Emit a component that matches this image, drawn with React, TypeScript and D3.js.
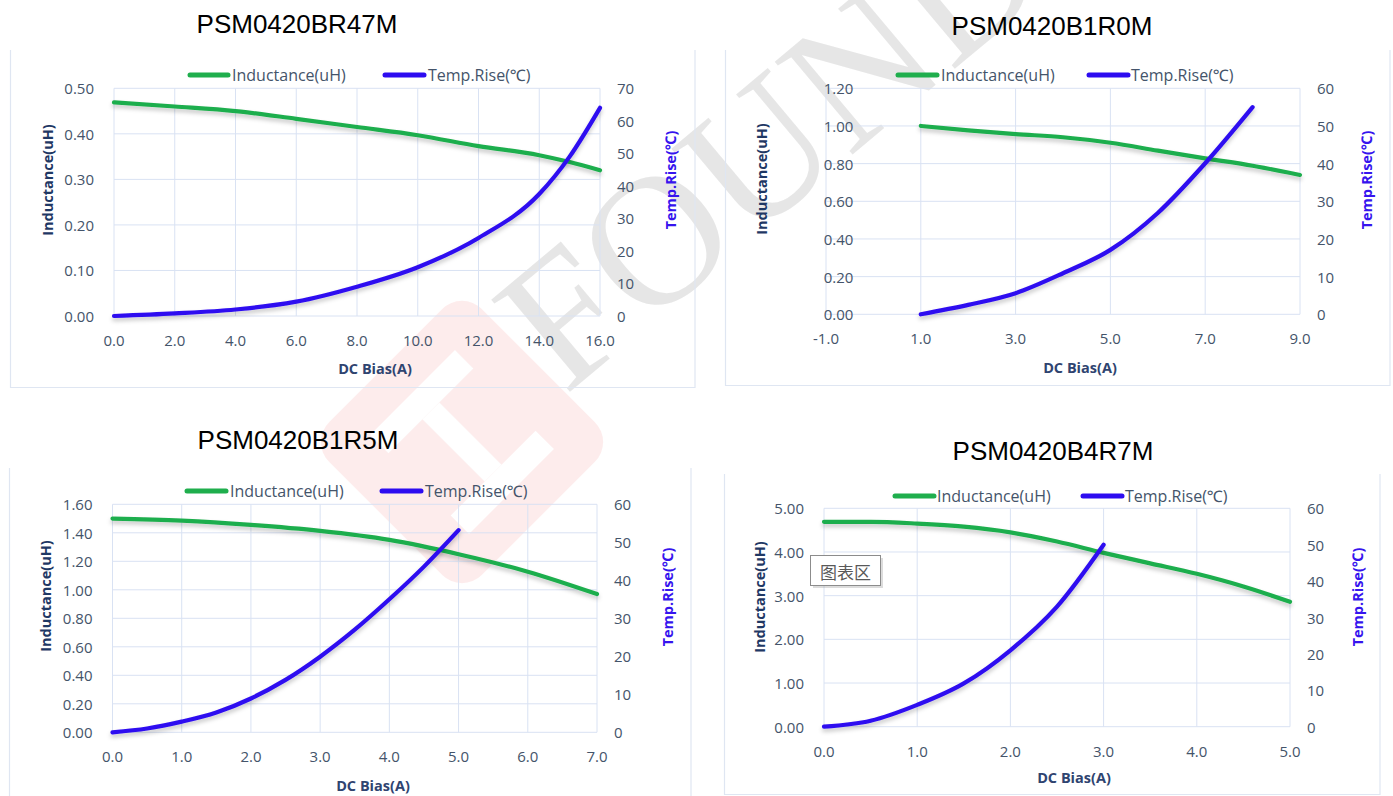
import React from 'react';
import * as d3 from 'd3';

// ---------- DATA ----------
// PSM0420BR47M
const r47IndCurrent = [0, 2, 4, 6, 8, 10, 12, 14, 15, 16];
const r47Inductance = [0.469, 0.46, 0.45, 0.433, 0.415, 0.397, 0.373, 0.353, 0.338, 0.32];
const r47TempCurrent = [0, 2, 4, 6, 8, 10, 12, 14, 15, 16];
const r47TempRise = [0, 0.8, 2, 4.4, 9, 15, 24, 37.5, 49, 64];
const r47XTicks = [0, 2, 4, 6, 8, 10, 12, 14, 16];
const r47LeftTicks = [0, 0.1, 0.2, 0.3, 0.4, 0.5];
const r47RightTicks = [0, 10, 20, 30, 40, 50, 60, 70];

// PSM0420B1R0M
const b1r0IndCurrent = [1, 2, 3, 4, 5, 6, 7, 8, 9];
const b1r0Inductance = [1.0, 0.977, 0.957, 0.94, 0.911, 0.869, 0.828, 0.789, 0.74];
const b1r0TempCurrent = [1, 2, 3, 4, 5, 6, 7, 8];
const b1r0TempRise = [0, 2.5, 5.6, 10.9, 17.1, 26.9, 40.1, 55];
const b1r0XTicks = [-1, 1, 3, 5, 7, 9];
const b1r0LeftTicks = [0, 0.2, 0.4, 0.6, 0.8, 1.0, 1.2];
const b1r0RightTicks = [0, 10, 20, 30, 40, 50, 60];

// PSM0420B1R5M
const b1r5IndCurrent = [0, 1, 2, 3, 4, 5, 6, 7];
const b1r5Inductance = [1.5, 1.485, 1.455, 1.413, 1.35, 1.25, 1.127, 0.97];
const b1r5TempCurrent = [0, 0.5, 1, 1.5, 2, 2.5, 3, 3.5, 4, 4.5, 5];
const b1r5TempRise = [0, 1, 2.8, 5.2, 8.9, 13.8, 19.9, 27, 35, 43.6, 53.2];
const b1r5XTicks = [0, 1, 2, 3, 4, 5, 6, 7];
const b1r5LeftTicks = [0, 0.2, 0.4, 0.6, 0.8, 1.0, 1.2, 1.4, 1.6];
const b1r5RightTicks = [0, 10, 20, 30, 40, 50, 60];

// PSM0420B4R7M
const b4r7IndCurrent = [0, 0.5, 1, 1.5, 2, 2.5, 3, 3.5, 4, 4.5, 5];
const b4r7Inductance = [4.69, 4.69, 4.65, 4.58, 4.45, 4.24, 3.98, 3.74, 3.5, 3.21, 2.86];
const b4r7TempCurrent = [0, 0.5, 1, 1.5, 2, 2.5, 3];
const b4r7TempRise = [0, 1.65, 6.0, 11.9, 21, 33, 50];
const b4r7XTicks = [0, 1, 2, 3, 4, 5];
const b4r7LeftTicks = [0, 1, 2, 3, 4, 5];
const b4r7RightTicks = [0, 10, 20, 30, 40, 50, 60];

const seriesNames = ['Inductance(uH)', 'Temp.Rise(\u2103)'];

// ---------- STYLE ----------
const GREEN = '#1fae4d';
const BLUE = '#2d0cf0';
const TICK = '#44546a';
const NAVY = '#1f3864';
const GRID = '#d9e2f3';
const BORDER = '#dfe6f2';
const TICK_FONT = "'Open Sans', 'Noto Sans', sans-serif";

type Spec = {
  title: string;
  titleX: number;
  titleY: number;
  box: [number, number, number, number];
  plot: { x0: number; x1: number; yTop: number; yBottom: number };
  xDomain: [number, number];
  yLeftMax: number;
  yRightMax: number;
  yAxisAt: number;
  indX: number[];
  indY: number[];
  tempX: number[];
  tempY: number[];
  xTicks: number[];
  leftTicks: number[];
  rightTicks: number[];
  legendY: number;
  legGreen: [number, number, number];
  legBlue: [number, number, number];
  xTitle: [number, number];
  leftTitle: [number, number];
  rightTitle: [number, number];
};

const specs: Spec[] = [
  {
    title: 'PSM0420BR47M', titleX: 297, titleY: 33,
    box: [10.5, 50, 695, 387.5],
    plot: { x0: 114, x1: 600, yTop: 88.3, yBottom: 316 },
    xDomain: [0, 16], yLeftMax: 0.5, yRightMax: 70, yAxisAt: 0,
    indX: r47IndCurrent, indY: r47Inductance, tempX: r47TempCurrent, tempY: r47TempRise,
    xTicks: r47XTicks, leftTicks: r47LeftTicks, rightTicks: r47RightTicks,
    legendY: 75, legGreen: [190, 228, 232], legBlue: [385, 424, 428],
    xTitle: [375, 368], leftTitle: [47, 180], rightTitle: [670, 180],
  },
  {
    title: 'PSM0420B1R0M', titleX: 1052, titleY: 35,
    box: [725.5, 50, 1390, 385.5],
    plot: { x0: 826, x1: 1300, yTop: 88.3, yBottom: 314.3 },
    xDomain: [-1, 9], yLeftMax: 1.2, yRightMax: 60, yAxisAt: 0,
    indX: b1r0IndCurrent, indY: b1r0Inductance, tempX: b1r0TempCurrent, tempY: b1r0TempRise,
    xTicks: b1r0XTicks, leftTicks: b1r0LeftTicks, rightTicks: b1r0RightTicks,
    legendY: 75, legGreen: [898, 937, 941], legBlue: [1089, 1128, 1131],
    xTitle: [1080, 367], leftTitle: [761, 179], rightTitle: [1366, 180],
  },
  {
    title: 'PSM0420B1R5M', titleX: 298, titleY: 449,
    box: [9.5, 468, 691, 800],
    plot: { x0: 112.5, x1: 597, yTop: 504.3, yBottom: 732.3 },
    xDomain: [0, 7], yLeftMax: 1.6, yRightMax: 60, yAxisAt: 0,
    indX: b1r5IndCurrent, indY: b1r5Inductance, tempX: b1r5TempCurrent, tempY: b1r5TempRise,
    xTicks: b1r5XTicks, leftTicks: b1r5LeftTicks, rightTicks: b1r5RightTicks,
    legendY: 491, legGreen: [187, 226, 230], legBlue: [382, 421, 425],
    xTitle: [373, 785], leftTitle: [45, 596], rightTitle: [667, 597],
  },
  {
    title: 'PSM0420B4R7M', titleX: 1053, titleY: 460,
    box: [724.5, 474, 1380, 794.5],
    plot: { x0: 824, x1: 1290, yTop: 508.3, yBottom: 726.7 },
    xDomain: [0, 5], yLeftMax: 5, yRightMax: 60, yAxisAt: 0,
    indX: b4r7IndCurrent, indY: b4r7Inductance, tempX: b4r7TempCurrent, tempY: b4r7TempRise,
    xTicks: b4r7XTicks, leftTicks: b4r7LeftTicks, rightTicks: b4r7RightTicks,
    legendY: 496, legGreen: [895, 934, 937], legBlue: [1083, 1122, 1125],
    xTitle: [1074, 777], leftTitle: [759, 597], rightTitle: [1357, 597],
  },
];

const fmtX = (t: number) => d3.format('.1f')(t).replace('\u2212', '-');

function Chart({ s }: { s: Spec }) {
  const x = d3.scaleLinear().domain(s.xDomain).range([s.plot.x0, s.plot.x1]);
  const yL = d3.scaleLinear().domain([0, s.yLeftMax]).range([s.plot.yBottom, s.plot.yTop]);
  const yR = d3.scaleLinear().domain([0, s.yRightMax]).range([s.plot.yBottom, s.plot.yTop]);
  const indLine = d3
    .line<number>()
    .x((_, i) => x(s.indX[i]))
    .y((d) => yL(d))
    .curve(d3.curveMonotoneX);
  const tempLine = d3
    .line<number>()
    .x((_, i) => x(s.tempX[i]))
    .y((d) => yR(d))
    .curve(d3.curveMonotoneX);
  const [bl, bt, br, bb] = s.box;
  const axisX = x(s.yAxisAt);
  return (
    <g>
      <path d={`M${bl},${bt}V${bb}H${br}V${bt}`} fill="none" stroke={BORDER} strokeWidth={1.2} />
      <text x={s.titleX} y={s.titleY} textAnchor="middle" fontFamily="'Liberation Sans', Arial, sans-serif" fontSize={26} fill="#000">
        {s.title}
      </text>
      {s.leftTicks.map((t) => (
        <line key={'h' + t} x1={s.plot.x0} x2={s.plot.x1} y1={yL(t)} y2={yL(t)} stroke={GRID} strokeWidth={1} />
      ))}
      {s.xTicks.map((t) => (
        <line key={'v' + t} x1={x(t)} x2={x(t)} y1={s.plot.yTop} y2={s.plot.yBottom} stroke={GRID} strokeWidth={1} />
      ))}
      {s.leftTicks.map((t) => (
        <text key={'l' + t} x={axisX - 20} y={yL(t)} textAnchor="end" dominantBaseline="central" fontFamily={TICK_FONT} fontSize={15} fill={TICK}>
          {d3.format('.2f')(t)}
        </text>
      ))}
      {s.rightTicks.map((t) => (
        <text key={'r' + t} x={s.plot.x1 + 17} y={yR(t)} textAnchor="start" dominantBaseline="central" fontFamily={TICK_FONT} fontSize={15} fill={TICK}>
          {d3.format('d')(t)}
        </text>
      ))}
      {s.xTicks.map((t) => (
        <text key={'x' + t} x={x(t)} y={s.plot.yBottom + 24} textAnchor="middle" dominantBaseline="central" fontFamily={TICK_FONT} fontSize={15} fill={TICK}>
          {fmtX(t)}
        </text>
      ))}
      <text x={s.xTitle[0]} y={s.xTitle[1]} textAnchor="middle" dominantBaseline="central" fontFamily={TICK_FONT} fontWeight="bold" fontSize={14.5} fill="#2f4470">
        DC Bias(A)
      </text>
      <text transform={`translate(${s.leftTitle[0]},${s.leftTitle[1]}) rotate(-90)`} textAnchor="middle" dominantBaseline="central" fontFamily={TICK_FONT} fontWeight="bold" fontSize={14.5} fill={NAVY}>
        Inductance(uH)
      </text>
      <text transform={`translate(${s.rightTitle[0]},${s.rightTitle[1]}) rotate(-90)`} textAnchor="middle" dominantBaseline="central" fontFamily={TICK_FONT} fontWeight="bold" fontSize={14.5} fill="#3614ee">
        Temp.Rise(℃)
      </text>
      <path d={indLine(s.indY) || ''} fill="none" stroke={GREEN} strokeWidth={4.2} strokeLinecap="round" filter="url(#shadow)" />
      <path d={tempLine(s.tempY) || ''} fill="none" stroke={BLUE} strokeWidth={4.2} strokeLinecap="round" filter="url(#shadow)" />
      <line x1={s.legGreen[0]} x2={s.legGreen[1]} y1={s.legendY} y2={s.legendY} stroke={GREEN} strokeWidth={5} strokeLinecap="round" />
      <text x={s.legGreen[2]} y={s.legendY} dominantBaseline="central" fontFamily={TICK_FONT} fontSize={16} fill={TICK}>
        {seriesNames[0]}
      </text>
      <line x1={s.legBlue[0]} x2={s.legBlue[1]} y1={s.legendY} y2={s.legendY} stroke={BLUE} strokeWidth={5} strokeLinecap="round" />
      <text x={s.legBlue[2]} y={s.legendY} dominantBaseline="central" fontFamily={TICK_FONT} fontSize={16} fill={TICK}>
        {seriesNames[1]}
      </text>
    </g>
  );
}

export default function App() {
  return (
    <svg width={1393} height={796} style={{ position: 'absolute', left: 0, top: 0, background: '#fff' }}>
      <defs>
        <filter id="shadow" x="-10%" y="-10%" width="120%" height="130%">
          <feDropShadow dx="0" dy="3" stdDeviation="2" floodColor="#000" floodOpacity="0.22" />
        </filter>
      </defs>
      {/* watermark */}
      <g opacity={0.38}>
        <g transform="translate(462,442) rotate(45)">
          <rect x={-108} y={-108} width={216} height={216} rx={28} fill="#fbcfcf" />
          <rect x={-70} y={-60} width={26} height={120} fill="#fff" />
          <rect x={44} y={-60} width={26} height={120} fill="#fff" />
          <rect x={-44} y={-12} width={88} height={24} fill="#fff" />
        </g>
      </g>
      <text transform="translate(565,396) rotate(-40)" fontFamily="'Liberation Serif', 'DejaVu Serif', serif" fontSize={185} fill="#dadada" opacity={0.65}>
        FOUND
      </text>
      {specs.map((s) => (
        <Chart key={s.title} s={s} />
      ))}
      <g>
        <rect x={813} y={558} width={70} height={30} fill="#9a9a9a" opacity={0.35} />
        <rect x={810.5} y={555.5} width={70} height={30} fill="#fff" stroke="#8c8c8c" strokeWidth={1} />
        <text x={845.5} y={571} textAnchor="middle" dominantBaseline="central" fontFamily="'Noto Sans CJK SC', sans-serif" fontSize={17} fill="#595959">
          图表区
        </text>
      </g>
    </svg>
  );
}
